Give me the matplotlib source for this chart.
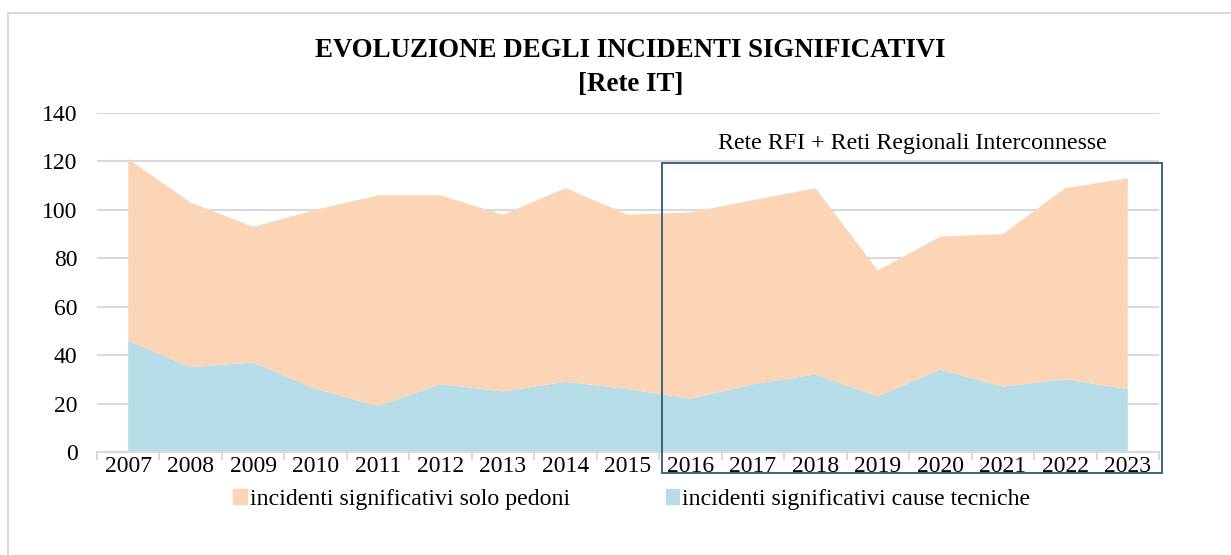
import matplotlib
matplotlib.use("Agg")
import matplotlib.pyplot as plt
from matplotlib.patches import Rectangle, Patch
from matplotlib.lines import Line2D

plt.rcParams['font.family'] = ['Liberation Serif', 'DejaVu Serif']

# values
years = ['2007', '2008', '2009', '2010', '2011', '2012', '2013', '2014', '2015',
         '2016', '2017', '2018', '2019', '2020', '2021', '2022', '2023']
cause_tecniche = [46, 35, 37, 26, 19, 28, 25, 29, 26, 22, 28, 32, 23, 34, 27, 30, 26]
solo_pedoni = [75, 68, 56, 74, 87, 78, 73, 80, 72, 77, 76, 77, 52, 55, 63, 79, 87]

c_peach = '#FBD5B5'
c_blue = '#B7DDE8'
c_grid = '#D9D9D9'
c_box = '#2A5C6B'

fig = plt.figure(figsize=(12.31, 5.55), dpi=100)
ax = fig.add_axes([97 / 1231, 103 / 555, (1159 - 97) / 1231, (452 - 113) / 555])

x = list(range(len(years)))
ax.stackplot(x, cause_tecniche, solo_pedoni, colors=[c_blue, c_peach], lw=0, zorder=2)

ax.set_xlim(-0.5, len(years) - 0.5)
ax.set_ylim(0, 140)
ax.set_yticks(range(0, 141, 20))
ax.yaxis.grid(True, color=c_grid, lw=1.5, zorder=0)
ax.set_axisbelow(True)
for s in ['top', 'right', 'left']:
    ax.spines[s].set_visible(False)
ax.spines['bottom'].set_color(c_grid)
ax.spines['bottom'].set_linewidth(1.5)
ax.spines['bottom'].set_zorder(3)

ax.set_xticks(x)
ax.set_xticklabels(years)
ax.set_xticks([i - 0.5 for i in range(len(years) + 1)], minor=True)
ax.tick_params(axis='x', which='major', length=0, labelsize=17, pad=3)
ax.tick_params(axis='x', which='minor', length=6, width=1.5, color=c_grid)
ax.tick_params(axis='y', length=0, labelsize=17, pad=14)

# box for the RFI + regional networks period
box = Rectangle((8.55, -8.7), 16.55 - 8.55, 119.4 + 8.7, fill=False,
                edgecolor=c_box, lw=1.3, clip_on=False, zorder=5)
ax.add_patch(box)
ax.text((8.55 + 16.55) / 2, 123.0, 'Rete RFI + Reti Regionali Interconnesse',
        ha='center', va='bottom', fontsize=17.2)

fig.text(0.512, 0.909, 'EVOLUZIONE DEGLI INCIDENTI SIGNIFICATIVI', ha='center',
         va='center', fontsize=19.4, fontweight='bold')
fig.text(0.512, 0.848, '[Rete IT]', ha='center', va='center',
         fontsize=19.4, fontweight='bold')

handles = [Patch(color=c_peach), Patch(color=c_blue)]
labels = ['incidenti significativi solo pedoni', 'incidenti significativi cause tecniche']
fig.legend(handles, labels, loc='center', bbox_to_anchor=(0.5134, 0.1), ncol=2,
           frameon=False, fontsize=17.2, handlelength=0.55, handleheight=0.55,
           handletextpad=0.15, columnspacing=4.0)

# outer chart border (top and left visible)
fig.add_artist(Line2D([8 / 1231, 8 / 1231], [0, 1 - 13 / 555], color=c_grid, lw=1.5,
                      transform=fig.transFigure))
fig.add_artist(Line2D([8 / 1231, 1], [1 - 13 / 555, 1 - 13 / 555], color=c_grid, lw=1.5,
                      transform=fig.transFigure))

fig.savefig('out.png', dpi=100)
